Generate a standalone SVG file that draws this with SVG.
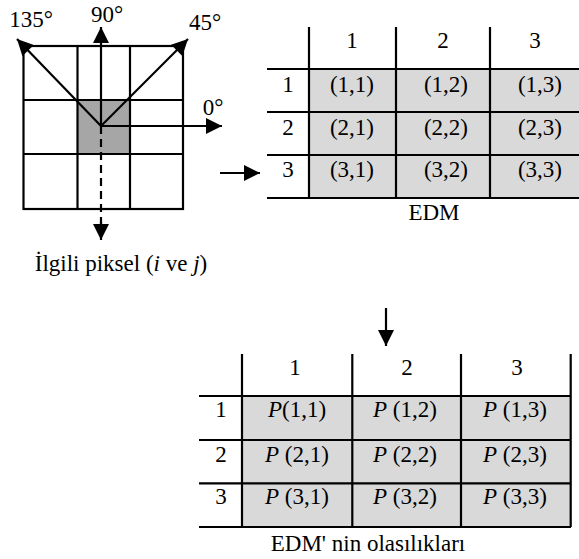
<svg xmlns="http://www.w3.org/2000/svg" width="579" height="559" viewBox="0 0 579 559" font-family="Liberation Serif, Times New Roman, DejaVu Serif, serif">
  <style>
    text { font-family: 'Liberation Serif', 'Times New Roman', 'DejaVu Serif', serif; font-size: 23px; fill: #000; }
    .c { text-anchor: middle; }
    .it { font-style: italic; }
    .ln { stroke: #000; stroke-width: 2.2; fill: none; }
    .cell { fill: #d9d9d9; stroke: none; }
  </style>
  <defs>
    <marker id="ah" viewBox="0 0 10 10" refX="10" refY="5" markerWidth="17" markerHeight="16" markerUnits="userSpaceOnUse" orient="auto">
      <path d="M0,0 L10,5 L0,10 z" fill="#000"/>
    </marker>
  </defs>

  <!-- pixel neighbourhood with direction arrows -->
  <g id="pixel-grid">
    <rect x="77.5" y="100" width="52.5" height="54" fill="#a6a6a6"/>
    <rect x="23.5" y="46" width="159.5" height="163" class="ln"/>
    <path class="ln" d="M77.5,46 V209 M130,46 V209 M23.5,100 H183 M23.5,154 H183"/>
    <text x="31" y="27" class="c">135°</text>
    <text x="107" y="22" class="c">90°</text>
    <text x="205" y="30" class="c">45°</text>
    <text x="213" y="115" class="c">0°</text>
    <text x="121" y="271" class="c">İlgili piksel (<tspan class="it">i</tspan> ve <tspan class="it">j</tspan>)</text>
  </g>

  <g id="connectors">
    <line x1="101" y1="126" x2="101" y2="27" class="ln" marker-end="url(#ah)"/>
    <line x1="101" y1="126" x2="17" y2="39" class="ln" marker-end="url(#ah)"/>
    <line x1="101" y1="126" x2="188" y2="39" class="ln" marker-end="url(#ah)"/>
    <line x1="101" y1="126" x2="222" y2="126" class="ln" marker-end="url(#ah)"/>
    <line x1="101" y1="126" x2="101" y2="226" class="ln" stroke-dasharray="8,5"/>
    <line x1="101" y1="222" x2="101" y2="240" class="ln" marker-end="url(#ah)"/>
    <line x1="220" y1="173" x2="260" y2="173" class="ln" marker-end="url(#ah)"/>
    <line x1="386" y1="308" x2="386" y2="346" class="ln" marker-end="url(#ah)"/>
  </g>

  <!-- EDM matrix -->
  <g id="edm">
    <rect x="309" y="69" width="270" height="129" class="cell"/>
    <path class="ln" d="M309,27 V198 M396,27 V198 M490,27 V198 M267,69 H579 M267,112 H579 M267,155 H579 M267,198 H579"/>
    <text x="352" y="48" class="c">1</text>
    <text x="443" y="48" class="c">2</text>
    <text x="535" y="48" class="c">3</text>
    <text x="288" y="92" class="c">1</text>
    <text x="288" y="135" class="c">2</text>
    <text x="288" y="177" class="c">3</text>
    <text x="352" y="92" class="c">(1,1)</text>
    <text x="446" y="92" class="c">(1,2)</text>
    <text x="540" y="92" class="c">(1,3)</text>
    <text x="352" y="135" class="c">(2,1)</text>
    <text x="446" y="135" class="c">(2,2)</text>
    <text x="540" y="135" class="c">(2,3)</text>
    <text x="352" y="177" class="c">(3,1)</text>
    <text x="446" y="177" class="c">(3,2)</text>
    <text x="540" y="177" class="c">(3,3)</text>
    <text x="434" y="220" class="c">EDM</text>
  </g>

  <!-- probabilities of the EDM -->
  <g id="edm-probabilities">
    <rect x="242" y="396" width="329" height="131" class="cell"/>
    <path class="ln" d="M242,354 V527 M352.3,354 V527 M461,354 V527 M570.7,354 V527 M199,396 H571 M199,440 H571 M199,483.3 H571 M199,527 H571"/>
    <text x="295" y="375" class="c">1</text>
    <text x="407" y="375" class="c">2</text>
    <text x="517" y="375" class="c">3</text>
    <text x="221" y="417" class="c">1</text>
    <text x="221" y="462" class="c">2</text>
    <text x="221" y="504" class="c">3</text>
    <text x="297" y="417" class="c"><tspan class="it">P</tspan>(1,1)</text>
    <text x="405" y="417" class="c"><tspan class="it">P</tspan> (1,2)</text>
    <text x="515" y="417" class="c"><tspan class="it">P</tspan> (1,3)</text>
    <text x="297" y="462" class="c"><tspan class="it">P</tspan> (2,1)</text>
    <text x="405" y="462" class="c"><tspan class="it">P</tspan> (2,2)</text>
    <text x="515" y="462" class="c"><tspan class="it">P</tspan> (2,3)</text>
    <text x="297" y="504" class="c"><tspan class="it">P</tspan> (3,1)</text>
    <text x="405" y="504" class="c"><tspan class="it">P</tspan> (3,2)</text>
    <text x="515" y="504" class="c"><tspan class="it">P</tspan> (3,3)</text>
    <text x="368" y="551" class="c">EDM' nin olasılıkları</text>
  </g>
</svg>
